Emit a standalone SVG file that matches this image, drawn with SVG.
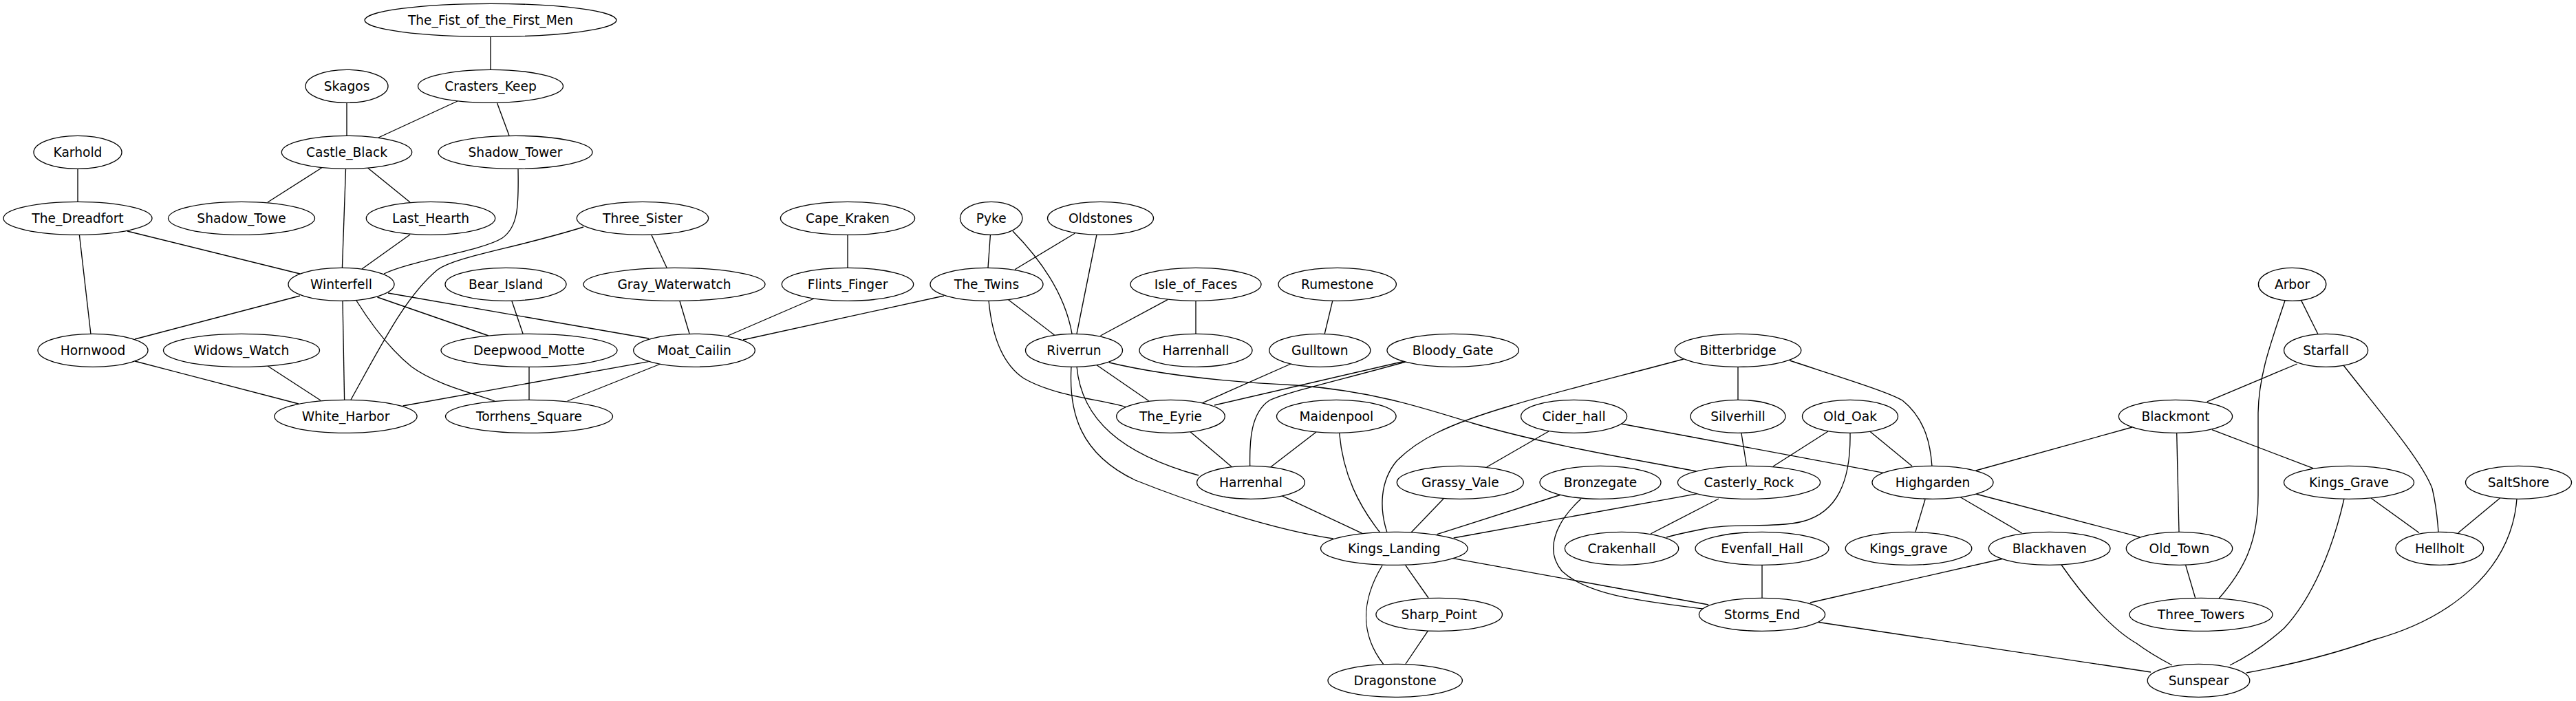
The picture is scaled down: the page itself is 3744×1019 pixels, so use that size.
<svg xmlns="http://www.w3.org/2000/svg" width="3744" height="1019" viewBox="0 0 3744 1019">
<style>
.n ellipse{fill:#fff;stroke:#000;stroke-width:1.33}
.n text{font-family:"DejaVu Sans","Liberation Sans",sans-serif;font-size:18.67px;text-anchor:middle;fill:#000}
#edges path,#edges line{fill:none;stroke:#000;stroke-width:1.33}
</style>
<rect width="3744" height="1019" fill="#fff"/>
<g id="edges">
<line x1="713" y1="53" x2="713" y2="101"/>
<line x1="504" y1="149" x2="504" y2="197"/>
<line x1="665" y1="147" x2="550" y2="200"/>
<line x1="722.6" y1="150" x2="740" y2="197"/>
<line x1="113" y1="245" x2="113" y2="293"/>
<line x1="467.5" y1="244" x2="389" y2="294"/>
<line x1="534.4" y1="244" x2="596" y2="294"/>
<line x1="502.5" y1="245.7" x2="497.4" y2="390"/>
<path d="M753,246 C754,300 753,330 730,346 C700,365 600,378 558,398"/>
<line x1="185" y1="336" x2="436" y2="398"/>
<line x1="115.4" y1="341.7" x2="132" y2="486"/>
<line x1="596" y1="341" x2="526" y2="391"/>
<path d="M848,330 C745,362 665,372 636,392 C590,430 555,500 510,581"/>
<line x1="947" y1="341.7" x2="969" y2="389"/>
<line x1="436" y1="430" x2="196" y2="493"/>
<line x1="498" y1="437" x2="500.6" y2="581"/>
<path d="M518,437 C545,480 572,512 598,533 C635,560 690,572 719,583"/>
<line x1="548.5" y1="432" x2="710" y2="488"/>
<line x1="564" y1="426" x2="943" y2="492"/>
<line x1="744" y1="437.7" x2="760" y2="485"/>
<line x1="988" y1="437.7" x2="1002" y2="485"/>
<line x1="196" y1="525" x2="434" y2="587"/>
<line x1="389" y1="532" x2="466" y2="582"/>
<line x1="769" y1="533" x2="769" y2="581"/>
<line x1="942.6" y1="525.7" x2="585.5" y2="590"/>
<line x1="960" y1="529" x2="824.6" y2="583"/>
<line x1="1232" y1="341" x2="1232" y2="389"/>
<line x1="1183" y1="434" x2="1058" y2="488"/>
<line x1="1372" y1="430" x2="1080" y2="494"/>
<line x1="1439.4" y1="341.7" x2="1436" y2="389"/>
<path d="M1472,336 C1525,390 1550,440 1558,485"/>
<line x1="1562.5" y1="339" x2="1475" y2="391.7"/>
<line x1="1594" y1="341" x2="1565" y2="485"/>
<line x1="1465.6" y1="435.7" x2="1532.5" y2="487"/>
<path d="M1437,437 C1442,490 1458,530 1488,550 C1535,577 1600,580 1638,592"/>
<line x1="1697" y1="435.7" x2="1599.5" y2="488"/>
<line x1="1738" y1="437.3" x2="1738" y2="485.3"/>
<line x1="1936.7" y1="437.7" x2="1925.3" y2="485"/>
<line x1="1593" y1="530" x2="1669.6" y2="582.7"/>
<path d="M1565,533 C1572,610 1630,660 1742,691"/>
<path d="M1557,533 C1553,600 1570,660 1650,698 C1730,730 1850,770 1938,783"/>
<path d="M1612,527 C1700,548 1800,556 1883,560 C1990,568 2060,590 2140,615 C2250,648 2400,672 2465,685"/>
<line x1="1876" y1="529" x2="1747.7" y2="585.7"/>
<line x1="2041.7" y1="525" x2="1765" y2="589"/>
<path d="M2043,526 C1950,552 1870,570 1845,582 C1818,600 1816,640 1816.7,677"/>
<line x1="1730" y1="627.7" x2="1790.7" y2="679"/>
<line x1="1913" y1="628" x2="1846.7" y2="679"/>
<path d="M1946.7,630 C1952,690 1975,735 2005.7,774"/>
<line x1="1863" y1="720.7" x2="1980" y2="775.3"/>
<path d="M2447,522 C2350,548 2260,570 2195,590 C2100,618 2060,640 2030,670 C2005,700 2005,740 2016,774"/>
<line x1="2526" y1="533.3" x2="2526" y2="581.3"/>
<path d="M2601,524 C2680,550 2745,570 2765,582 C2800,610 2806,650 2808,678"/>
<line x1="2251" y1="627" x2="2160.7" y2="679"/>
<line x1="2356" y1="616" x2="2737.7" y2="687.4"/>
<line x1="2531" y1="630" x2="2538.5" y2="677.5"/>
<line x1="2657" y1="627" x2="2577" y2="678"/>
<line x1="2717.6" y1="627" x2="2779" y2="677.5"/>
<path d="M2689,630 C2690,700 2670,745 2620,758 C2580,768 2520,760 2480,768 C2455,773 2435,777 2422,781"/>
<line x1="2098" y1="725" x2="2051" y2="774"/>
<line x1="2269" y1="719" x2="2088.7" y2="776.7"/>
<line x1="2466" y1="717.8" x2="2112.7" y2="782"/>
<path d="M2298,725 C2260,760 2245,800 2270,830 C2310,868 2400,875 2482,886"/>
<line x1="2498" y1="725" x2="2399" y2="776"/>
<line x1="2111.7" y1="811.7" x2="2483" y2="879"/>
<line x1="2561" y1="821.3" x2="2561" y2="869.3"/>
<line x1="2042.7" y1="821.7" x2="2076" y2="869"/>
<path d="M2009,822 C1980,870 1975,920 2011,966"/>
<line x1="2075.7" y1="916.7" x2="2043" y2="965"/>
<line x1="3344.6" y1="436.6" x2="3369" y2="485.7"/>
<path d="M3321,437 C3300,500 3283,545 3282,600 L3282,720 C3282,790 3260,830 3225,870"/>
<line x1="3338.6" y1="529" x2="3207.9" y2="583.8"/>
<path d="M3406,531 C3460,600 3520,670 3535,710 C3542,740 3543,760 3544,774"/>
<line x1="3099" y1="621" x2="2871.7" y2="684"/>
<line x1="3163.7" y1="629.4" x2="3167" y2="773.6"/>
<line x1="3214.9" y1="624.7" x2="3361.8" y2="680.6"/>
<line x1="2798" y1="726" x2="2784" y2="773"/>
<line x1="2848" y1="722" x2="2938.7" y2="775"/>
<line x1="2871.7" y1="718" x2="3110" y2="780.7"/>
<line x1="2912" y1="812" x2="2631" y2="876"/>
<path d="M2996,821 C3030,870 3070,915 3105,935 C3125,950 3140,958 3157,967"/>
<line x1="2643" y1="904.5" x2="3126" y2="977"/>
<line x1="3176.6" y1="821.4" x2="3190.6" y2="869"/>
<line x1="3446" y1="724" x2="3516" y2="774.5"/>
<path d="M3407,725 C3390,800 3360,870 3320,913 C3290,940 3265,955 3241,967"/>
<line x1="3633.6" y1="724" x2="3572.8" y2="774.5"/>
<path d="M3658,725 C3650,830 3560,900 3450,930 C3380,955 3320,968 3265,978"/>
</g>
<g id="The_Fist_of_the_First_Men" class="n"><ellipse cx="713" cy="29.33" rx="183" ry="24"/><text x="713" y="35.9">The_Fist_of_the_First_Men</text></g>
<g id="Skagos" class="n"><ellipse cx="504" cy="125.33" rx="60" ry="24"/><text x="504" y="131.9">Skagos</text></g>
<g id="Crasters_Keep" class="n"><ellipse cx="713" cy="125.33" rx="105.5" ry="24"/><text x="713" y="131.9">Crasters_Keep</text></g>
<g id="Karhold" class="n"><ellipse cx="113" cy="221.33" rx="64" ry="24"/><text x="113" y="227.9">Karhold</text></g>
<g id="Castle_Black" class="n"><ellipse cx="504" cy="221.33" rx="94.7" ry="24"/><text x="504" y="227.9">Castle_Black</text></g>
<g id="Shadow_Tower" class="n"><ellipse cx="749" cy="221.33" rx="112" ry="24"/><text x="749" y="227.9">Shadow_Tower</text></g>
<g id="The_Dreadfort" class="n"><ellipse cx="113" cy="317.33" rx="108" ry="24"/><text x="113" y="323.9">The_Dreadfort</text></g>
<g id="Shadow_Towe" class="n"><ellipse cx="351" cy="317.33" rx="106.5" ry="24"/><text x="351" y="323.9">Shadow_Towe</text></g>
<g id="Last_Hearth" class="n"><ellipse cx="626" cy="317.33" rx="93.7" ry="24"/><text x="626" y="323.9">Last_Hearth</text></g>
<g id="Three_Sister" class="n"><ellipse cx="934" cy="317.33" rx="95.7" ry="24"/><text x="934" y="323.9">Three_Sister</text></g>
<g id="Cape_Kraken" class="n"><ellipse cx="1232" cy="317.33" rx="97.6" ry="24"/><text x="1232" y="323.9">Cape_Kraken</text></g>
<g id="Pyke" class="n"><ellipse cx="1440.7" cy="317.33" rx="45.3" ry="24"/><text x="1440.7" y="323.9">Pyke</text></g>
<g id="Oldstones" class="n"><ellipse cx="1599.5" cy="317.33" rx="77" ry="24"/><text x="1599.5" y="323.9">Oldstones</text></g>
<g id="Arbor" class="n"><ellipse cx="3331.6" cy="413.33" rx="49.2" ry="24"/><text x="3331.6" y="419.9">Arbor</text></g>
<g id="Winterfell" class="n"><ellipse cx="496" cy="413.33" rx="77" ry="24"/><text x="496" y="419.9">Winterfell</text></g>
<g id="Bear_Island" class="n"><ellipse cx="735" cy="413.33" rx="88" ry="24"/><text x="735" y="419.9">Bear_Island</text></g>
<g id="Gray_Waterwatch" class="n"><ellipse cx="980" cy="413.33" rx="132" ry="24"/><text x="980" y="419.9">Gray_Waterwatch</text></g>
<g id="Flints_Finger" class="n"><ellipse cx="1232" cy="413.33" rx="95.7" ry="24"/><text x="1232" y="419.9">Flints_Finger</text></g>
<g id="The_Twins" class="n"><ellipse cx="1434" cy="413.33" rx="82" ry="24"/><text x="1434" y="419.9">The_Twins</text></g>
<g id="Isle_of_Faces" class="n"><ellipse cx="1738" cy="413.33" rx="95" ry="24"/><text x="1738" y="419.9">Isle_of_Faces</text></g>
<g id="Rumestone" class="n"><ellipse cx="1943.7" cy="413.33" rx="85.7" ry="24"/><text x="1943.7" y="419.9">Rumestone</text></g>
<g id="Hornwood" class="n"><ellipse cx="135" cy="509.33" rx="80" ry="24"/><text x="135" y="515.9">Hornwood</text></g>
<g id="Widows_Watch" class="n"><ellipse cx="351" cy="509.33" rx="113.5" ry="24"/><text x="351" y="515.9">Widows_Watch</text></g>
<g id="Deepwood_Motte" class="n"><ellipse cx="769" cy="509.33" rx="128" ry="24"/><text x="769" y="515.9">Deepwood_Motte</text></g>
<g id="Moat_Cailin" class="n"><ellipse cx="1009" cy="509.33" rx="88.3" ry="24"/><text x="1009" y="515.9">Moat_Cailin</text></g>
<g id="Riverrun" class="n"><ellipse cx="1561" cy="509.33" rx="70.5" ry="24"/><text x="1561" y="515.9">Riverrun</text></g>
<g id="Harrenhall" class="n"><ellipse cx="1738" cy="509.33" rx="82" ry="24"/><text x="1738" y="515.9">Harrenhall</text></g>
<g id="Gulltown" class="n"><ellipse cx="1918.3" cy="509.33" rx="73.5" ry="24"/><text x="1918.3" y="515.9">Gulltown</text></g>
<g id="Bloody_Gate" class="n"><ellipse cx="2111.7" cy="509.33" rx="95.7" ry="24"/><text x="2111.7" y="515.9">Bloody_Gate</text></g>
<g id="Bitterbridge" class="n"><ellipse cx="2526" cy="509.33" rx="91.8" ry="24"/><text x="2526" y="515.9">Bitterbridge</text></g>
<g id="Starfall" class="n"><ellipse cx="3380.6" cy="509.33" rx="61" ry="24"/><text x="3380.6" y="515.9">Starfall</text></g>
<g id="White_Harbor" class="n"><ellipse cx="502.5" cy="605.33" rx="103.6" ry="24"/><text x="502.5" y="611.9">White_Harbor</text></g>
<g id="Torrhens_Square" class="n"><ellipse cx="769" cy="605.33" rx="121.5" ry="24"/><text x="769" y="611.9">Torrhens_Square</text></g>
<g id="The_Eyrie" class="n"><ellipse cx="1701.5" cy="605.33" rx="78.8" ry="24"/><text x="1701.5" y="611.9">The_Eyrie</text></g>
<g id="Maidenpool" class="n"><ellipse cx="1942.3" cy="605.33" rx="86.8" ry="24"/><text x="1942.3" y="611.9">Maidenpool</text></g>
<g id="Cider_hall" class="n"><ellipse cx="2287.6" cy="605.33" rx="77" ry="24"/><text x="2287.6" y="611.9">Cider_hall</text></g>
<g id="Silverhill" class="n"><ellipse cx="2526" cy="605.33" rx="69" ry="24"/><text x="2526" y="611.9">Silverhill</text></g>
<g id="Old_Oak" class="n"><ellipse cx="2689" cy="605.33" rx="69.5" ry="24"/><text x="2689" y="611.9">Old_Oak</text></g>
<g id="Blackmont" class="n"><ellipse cx="3162" cy="605.33" rx="82.6" ry="24"/><text x="3162" y="611.9">Blackmont</text></g>
<g id="Harrenhal" class="n"><ellipse cx="1818" cy="701.33" rx="78.4" ry="24"/><text x="1818" y="707.9">Harrenhal</text></g>
<g id="Grassy_Vale" class="n"><ellipse cx="2122.3" cy="701.33" rx="92" ry="24"/><text x="2122.3" y="707.9">Grassy_Vale</text></g>
<g id="Bronzegate" class="n"><ellipse cx="2326" cy="701.33" rx="88" ry="24"/><text x="2326" y="707.9">Bronzegate</text></g>
<g id="Casterly_Rock" class="n"><ellipse cx="2542" cy="701.33" rx="103.6" ry="24"/><text x="2542" y="707.9">Casterly_Rock</text></g>
<g id="Highgarden" class="n"><ellipse cx="2809" cy="701.33" rx="88" ry="24"/><text x="2809" y="707.9">Highgarden</text></g>
<g id="Kings_Grave" class="n"><ellipse cx="3414" cy="701.33" rx="94.5" ry="24"/><text x="3414" y="707.9">Kings_Grave</text></g>
<g id="SaltShore" class="n"><ellipse cx="3660.5" cy="701.33" rx="77" ry="24"/><text x="3660.5" y="707.9">SaltShore</text></g>
<g id="Kings_Landing" class="n"><ellipse cx="2026.3" cy="797.33" rx="106.8" ry="24"/><text x="2026.3" y="803.9">Kings_Landing</text></g>
<g id="Crakenhall" class="n"><ellipse cx="2357" cy="797.33" rx="82.7" ry="24"/><text x="2357" y="803.9">Crakenhall</text></g>
<g id="Evenfall_Hall" class="n"><ellipse cx="2561" cy="797.33" rx="97" ry="24"/><text x="2561" y="803.9">Evenfall_Hall</text></g>
<g id="Kings_grave" class="n"><ellipse cx="2774" cy="797.33" rx="91.8" ry="24"/><text x="2774" y="803.9">Kings_grave</text></g>
<g id="Blackhaven" class="n"><ellipse cx="2978.7" cy="797.33" rx="88.3" ry="24"/><text x="2978.7" y="803.9">Blackhaven</text></g>
<g id="Old_Town" class="n"><ellipse cx="3167.5" cy="797.33" rx="77.2" ry="24"/><text x="3167.5" y="803.9">Old_Town</text></g>
<g id="Hellholt" class="n"><ellipse cx="3545.8" cy="797.33" rx="63.8" ry="24"/><text x="3545.8" y="803.9">Hellholt</text></g>
<g id="Sharp_Point" class="n"><ellipse cx="2091.7" cy="893.33" rx="91.8" ry="24"/><text x="2091.7" y="899.9">Sharp_Point</text></g>
<g id="Storms_End" class="n"><ellipse cx="2561" cy="893.33" rx="91.6" ry="24"/><text x="2561" y="899.9">Storms_End</text></g>
<g id="Three_Towers" class="n"><ellipse cx="3199" cy="893.33" rx="104" ry="24"/><text x="3199" y="899.9">Three_Towers</text></g>
<g id="Dragonstone" class="n"><ellipse cx="2027.7" cy="989.33" rx="97.7" ry="24"/><text x="2027.7" y="995.9">Dragonstone</text></g>
<g id="Sunspear" class="n"><ellipse cx="3195.5" cy="989.33" rx="74.3" ry="24"/><text x="3195.5" y="995.9">Sunspear</text></g>
</svg>
